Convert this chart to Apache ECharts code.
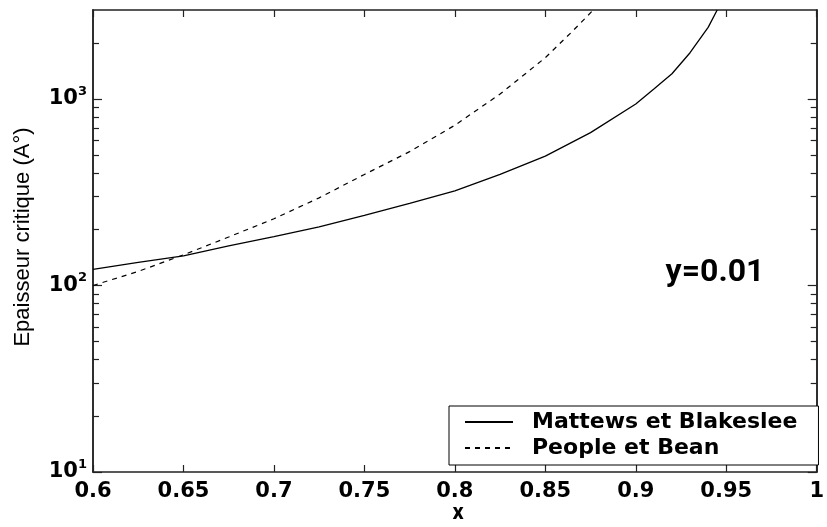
<!DOCTYPE html>
<html>
<head>
<meta charset="utf-8">
<script src="https://cdn.jsdelivr.net/npm/echarts@6/dist/echarts.min.js"></script>
<style>
html,body{margin:0;padding:0;background:#fff;}
#c{width:827px;height:527px;}
</style>
</head>
<body>
<div id="c"></div>
<script>
// ---- data ----
const seriesNames = ['Mattews et Blakeslee', 'People et Bean'];
const mbX = [0.60, 0.625, 0.65, 0.675, 0.70, 0.725, 0.75, 0.775, 0.80, 0.825, 0.85, 0.875, 0.90, 0.91, 0.92, 0.93, 0.94, 0.945];
const mbY = [122, 133, 144, 163, 183, 206, 238, 276, 322, 394, 494, 660, 940, 1130, 1365, 1770, 2420, 3000];
const pbX = [0.60, 0.625, 0.65, 0.675, 0.70, 0.725, 0.75, 0.775, 0.80, 0.825, 0.85, 0.865, 0.8765];
const pbY = [100, 119, 146, 182, 228, 295, 394, 522, 723, 1063, 1665, 2307, 3000];
const xTicks = [0.6, 0.65, 0.7, 0.75, 0.8, 0.85, 0.9, 0.95, 1];
const yMajor = [10, 100, 1000];
const yMinor = [20, 30, 40, 50, 60, 70, 80, 90, 200, 300, 400, 500, 600, 700, 800, 900, 2000];
const yTitle = 'Epaisseur critique (A°)';
const xTitle = 'x';
const annot = 'y=0.01';

const zip = (a, b) => a.map((v, i) => [v, b[i]]);
const FRAME = '#222';
const tickFont = {fontFamily: 'DejaVu Sans', fontWeight: 'bold', fontSize: 21, color: '#000'};

function yAxisDef(pos, vals, len, labels) {
  return {
    type: 'log', logBase: 10, min: 10, max: 3000, position: pos,
    axisLine: {show: true, lineStyle: {color: FRAME, width: 1.5}},
    axisTick: {show: true, inside: true, length: len, customValues: vals, lineStyle: {color: FRAME, width: 1.2}},
    axisLabel: labels ? {
      show: true, customValues: vals, margin: 6,
      formatter: v => '{b|10}{s|' + Math.round(Math.log10(v)) + '}',
      rich: {
        b: {fontFamily: 'DejaVu Sans', fontWeight: 'bold', fontSize: 21, lineHeight: 28, color: '#000'},
        s: {fontFamily: 'DejaVu Sans', fontWeight: 'bold', fontSize: 13, lineHeight: 14, verticalAlign: 'top', color: '#000'}
      }
    } : {show: false},
    splitLine: {show: false}, minorTick: {show: false}
  };
}
function xAxisDef(pos, labels) {
  return {
    type: 'value', min: 0.6, max: 1, interval: 0.05, position: pos,
    axisLine: {show: true, onZero: false, lineStyle: {color: FRAME, width: 1.5}},
    axisTick: {show: true, inside: true, length: 7, customValues: xTicks, lineStyle: {color: FRAME, width: 1.2}},
    axisLabel: labels ? Object.assign({show: true, margin: 9, customValues: xTicks, formatter: v => String(+v.toFixed(2))}, tickFont) : {show: false},
    splitLine: {show: false}
  };
}

const chart = echarts.init(document.getElementById('c'), null, {renderer: 'canvas'});
chart.setOption({
  animation: false,
  backgroundColor: '#fff',
  grid: {left: 93, right: 4, top: 10, bottom: 55},
  xAxis: [xAxisDef('bottom', true), xAxisDef('top', false)],
  yAxis: [
    yAxisDef('left', yMajor, 9, true),
    yAxisDef('left', yMinor, 6, false),
    yAxisDef('right', yMajor, 9, false),
    yAxisDef('right', yMinor, 6, false)
  ],
  legend: {
    show: true,
    left: 449, top: 406, orient: 'vertical',
    backgroundColor: '#fff', borderColor: '#000', borderWidth: 1, borderRadius: 0,
    padding: [5, 21, 6, 15], itemGap: 4, itemWidth: 48, itemHeight: 14,
    itemStyle: {color: 'rgba(0,0,0,0)', borderWidth: 0, opacity: 0},
    textStyle: {fontFamily: 'DejaVu Sans', fontWeight: 'bold', fontSize: 22, lineHeight: 21, color: '#000', padding: [0, 0, 0, 14]},
    data: seriesNames
  },
  series: [
    {name: seriesNames[0], type: 'line', data: zip(mbX, mbY), showSymbol: false, symbol: 'none', smooth: false,
     lineStyle: {color: '#000', width: 1.3, type: 'solid'}, itemStyle: {color: '#000'}},
    {name: seriesNames[1], type: 'line', data: zip(pbX, pbY), showSymbol: false, symbol: 'none', smooth: false,
     lineStyle: {color: '#000', width: 1.2, type: [5, 5]}, itemStyle: {color: '#000'}}
  ],
  graphic: [
    {type: 'text', x: 715, y: 273, style: {text: annot, fontFamily: 'Roboto', fontWeight: 'bold', fontSize: 32, fill: '#000', align: 'center', verticalAlign: 'middle'}},
    {type: 'text', x: 23, y: 237, rotation: Math.PI / 2, style: {text: yTitle, fontFamily: 'Arial', fontSize: 22, fill: '#000', align: 'center', verticalAlign: 'middle'}},
    {type: 'text', x: 458, y: 513, style: {text: xTitle, fontFamily: 'Roboto', fontWeight: 'bold', fontSize: 22, fill: '#000', align: 'center', verticalAlign: 'middle'}}
  ]
});
</script>
</body>
</html>
